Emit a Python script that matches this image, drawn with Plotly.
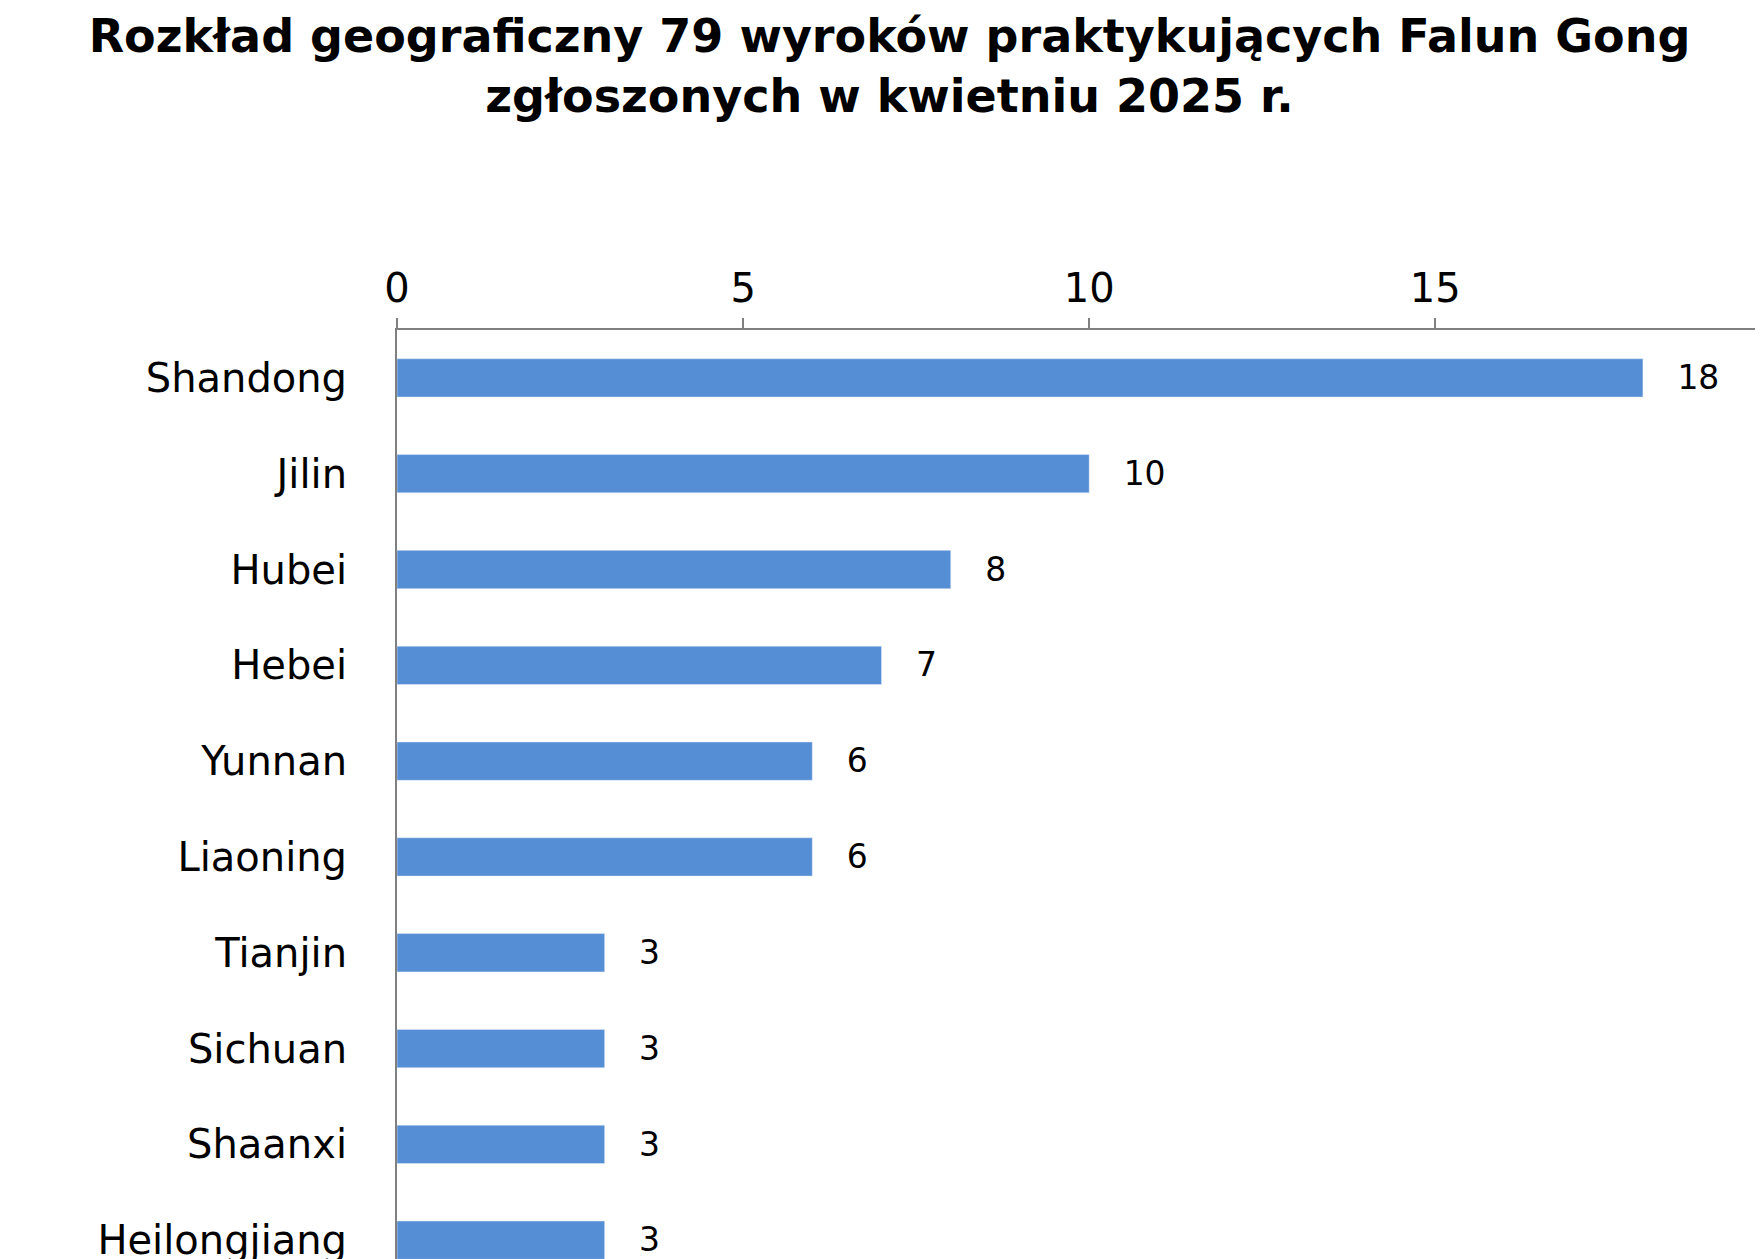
import plotly.graph_objects as go

provinces = ["Shandong", "Jilin", "Hubei", "Hebei", "Yunnan", "Liaoning",
             "Tianjin", "Sichuan", "Shaanxi", "Heilongjiang"]
counts = [18, 10, 8, 7, 6, 6, 3, 3, 3, 3]

fig = go.Figure(go.Bar(
    x=counts, y=provinces, orientation="h",
    marker=dict(color="#558ED5"),
    text=[f"   {c}" for c in counts], textposition="outside",
    textfont=dict(size=37, color="black", family="DejaVu Sans"),
    cliponaxis=False,
))

fig.update_layout(
    width=1763, height=1259,
    plot_bgcolor="white", paper_bgcolor="white",
    margin=dict(l=389, r=0, t=322, b=0),
    bargap=0.6,
    showlegend=False,
    font=dict(family="DejaVu Sans", color="black"),
    title=dict(
        text="<b>Rozkład geograficzny 79 wyroków praktykujących Falun Gong<br>zgłoszonych w kwietniu 2025 r.</b>",
        x=0.5, xanchor="center", y=0.965, yanchor="top",
        font=dict(size=46, family="DejaVu Sans", color="black"),
    ),
)
fig.update_xaxes(
    side="top", range=[0, 19.85], tickvals=[0, 5, 10, 15],
    showgrid=False, zeroline=False,
    showline=True, linecolor="#808080", linewidth=2,
    ticks="outside", tickcolor="#808080", ticklen=10, tickwidth=2,
    tickfont=dict(size=40),
)
fig.update_yaxes(
    categoryorder="array", categoryarray=provinces,
    range=[9.28, -0.5],
    showgrid=False, showline=True, linecolor="#808080", linewidth=2,
    ticks="outside", ticklen=0, tickcolor="white",
    tickfont=dict(size=40), ticklabelstandoff=40,
)

fig.write_html("out.html")
